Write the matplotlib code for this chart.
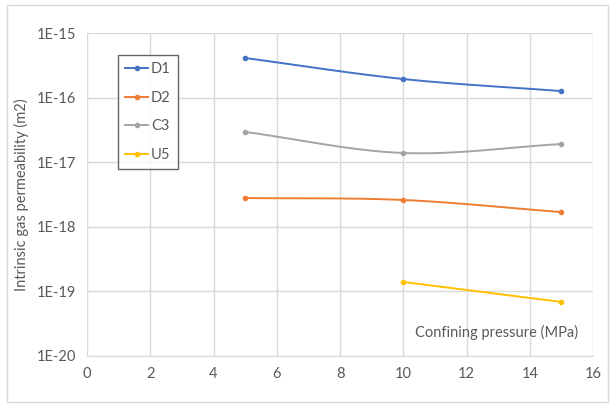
import matplotlib
matplotlib.use('Agg')
import matplotlib.pyplot as plt
import numpy as np
from matplotlib.patches import Rectangle

# confining pressure (MPa) and intrinsic permeability (m2)
series_names = ['D1', 'D2', 'C3', 'U5']
series_colors = ['#4472C4', '#ED7D31', '#A5A5A5', '#FFC000']
x_d1 = [5, 10, 15]
y_d1 = [4.1e-16, 1.94e-16, 1.26e-16]
x_d2 = [5, 10, 15]
y_d2 = [2.79e-18, 2.6e-18, 1.69e-18]
x_c3 = [5, 10, 15]
y_c3 = [2.94e-17, 1.39e-17, 1.91e-17]
x_u5 = [10, 15]
y_u5 = [1.40e-19, 6.86e-20]

x_ticks = [0, 2, 4, 6, 8, 10, 12, 14, 16]
y_ticks = [1e-20, 1e-19, 1e-18, 1e-17, 1e-16, 1e-15]
y_ticklabels = ['1E-20', '1E-19', '1E-18', '1E-17', '1E-16', '1E-15']

plt.rcParams['font.family'] = ['Lato', 'DejaVu Sans']
text_col = '#595959'
grid_col = '#d9d9d9'


def smooth(xs, ys, n=40):
    # Catmull-Rom style curve through the points, in log space (like Excel "smoothed line")
    xs = np.asarray(xs, float)
    ls = np.log10(ys)
    if len(xs) < 3:
        return xs, np.asarray(ys)
    px = np.concatenate([[2 * xs[0] - xs[1]], xs, [2 * xs[-1] - xs[-2]]])
    py = np.concatenate([[2 * ls[0] - ls[1]], ls, [2 * ls[-1] - ls[-2]]])
    outx, outy = [], []
    for i in range(1, len(px) - 2):
        t = np.linspace(0, 1, n)
        p0, p1, p2, p3 = i - 1, i, i + 1, i + 2
        for arr, out in ((px, outx), (py, outy)):
            a0, a1, a2, a3 = arr[p0], arr[p1], arr[p2], arr[p3]
            out.extend(0.5 * ((2 * a1) + (-a0 + a2) * t
                              + (2 * a0 - 5 * a1 + 4 * a2 - a3) * t ** 2
                              + (-a0 + 3 * a1 - 3 * a2 + a3) * t ** 3))
    return np.array(outx), 10 ** np.array(outy)


fig = plt.figure(figsize=(6.14, 4.05), dpi=100)
fig.patches.append(Rectangle((0.011, 0.008), 0.979, 0.98, transform=fig.transFigure,
                             fill=False, edgecolor=grid_col, linewidth=1.0))
ax = fig.add_axes([0.1417, 0.121, 0.8241, 0.7975])

data = [(x_d1, y_d1), (x_d2, y_d2), (x_c3, y_c3), (x_u5, y_u5)]
handles = []
for (xs, ys), name, col in zip(data, series_names, series_colors):
    sx, sy = smooth(xs, ys)
    ax.plot(sx, sy, color=col, linewidth=1.4, zorder=3)
    ax.plot(xs, ys, 'o', color=col, markersize=3, zorder=4)
    h, = ax.plot([], [], '-o', color=col, linewidth=1.4, markersize=3, label=name)
    handles.append(h)

ax.set_yscale('log')
ax.set_xlim(0, 16)
ax.set_ylim(1e-20, 1e-15)
ax.set_xticks(x_ticks)
ax.set_xticklabels([str(t) for t in x_ticks])
ax.set_yticks(y_ticks)
ax.set_yticklabels(y_ticklabels)
ax.yaxis.set_minor_locator(matplotlib.ticker.NullLocator())
ax.tick_params(length=0, colors=text_col, labelsize=10.5, pad=8)
ax.grid(True, color=grid_col, linewidth=1.0)
for s in ['top', 'right', 'left']:
    ax.spines[s].set_visible(False)
ax.spines['bottom'].set_color(grid_col)
ax.set_axisbelow(True)

ax.set_ylabel('Intrinsic gas permeability (m2)', color=text_col, fontsize=10.5, labelpad=5)
ax.text(0.97, 0.072, 'Confining pressure (MPa)', transform=ax.transAxes,
        ha='right', va='center', color=text_col, fontsize=10.5)

leg = ax.legend(handles=handles, loc='upper left', bbox_to_anchor=(0.046, 0.955),
                frameon=True, fancybox=False, edgecolor='#404040', labelspacing=1.0,
                handlelength=1.6, handletextpad=0.2, borderpad=0.5, fontsize=10.5)
leg.get_frame().set_linewidth(1.0)
for t in leg.get_texts():
    t.set_color(text_col)

fig.savefig('out.png', dpi=100)
